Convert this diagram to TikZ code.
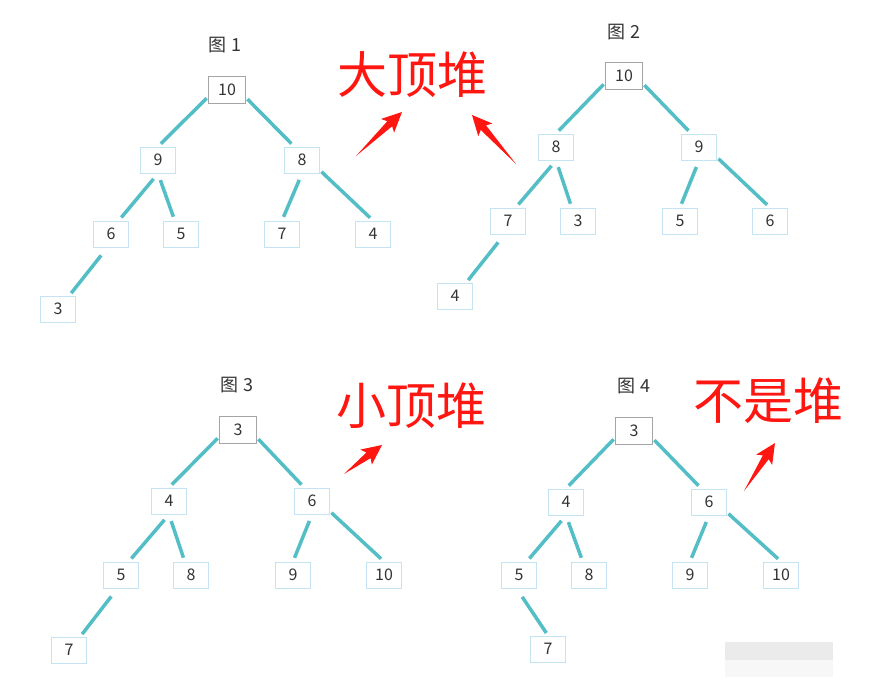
\documentclass[tikz,border=0pt]{standalone}
\usepackage{fontspec}
\newfontfamily\cjk{Noto Sans CJK SC}
\usepackage{tikz}
\usetikzlibrary{calc,positioning}
\definecolor{edgeteal}{RGB}{84,190,198}
\definecolor{keyblue}{RGB}{196,228,243}
\definecolor{rootgray}{RGB}{165,165,165}
\definecolor{inkgray}{RGB}{51,51,51}
\definecolor{heapred}{RGB}{255,22,16}
\tikzstyle{key} = [rectangle, draw=keyblue, fill=white, line width=1pt, minimum width=35pt, minimum height=26pt, inner sep=0pt, text=inkgray, font=\cjk\fontsize{16}{16}\selectfont]
\tikzstyle{rootkey} = [key, draw=rootgray, minimum width=37pt, minimum height=27pt]
\tikzstyle{title} = [text=inkgray, font=\cjk\fontsize{18}{18}\selectfont]
\tikzstyle{verdict} = [text=heapred, font=\cjk\fontsize{50}{50}\selectfont]
\tikzstyle{edge} = [draw=edgeteal, line width=3.5pt, shorten <=2pt, shorten >=4pt]
\tikzstyle{subedge} = [edge, shorten <=7pt]
\tikzstyle{leafedge} = [edge, shorten <=10pt, shorten >=3pt]
% tapered red arrow from a tail point to a tip point
\newcommand{\redarrow}[2]{%
    \fill[heapred] (#1)
        -- ($ ($(#2)!17pt!(#1)$)!3.5pt!90:(#1) $)
        -- ($ ($(#2)!20pt!(#1)$)!9.5pt!90:(#1) $)
        -- (#2)
        -- ($ ($(#2)!20pt!(#1)$)!9.5pt!-90:(#1) $)
        -- ($ ($(#2)!17pt!(#1)$)!3.5pt!-90:(#1) $)
        -- cycle;}

\begin{document}
\begin{tikzpicture}[x=1pt, y=-1pt]
            \useasboundingbox (0,0) rectangle (872,685);

            % figure 1
            \node[title]   (title1) at (225,45) {图 1};
            \node[rootkey] (t1r) at (227,90)  {10};
            \node[key]     (t1a) at (158,160) {9};
            \node[key]     (t1b) at (302,160) {8};
            \node[key]     (t1c) at (111,234) {6};
            \node[key]     (t1d) at (181,234) {5};
            \node[key]     (t1e) at (282,234) {7};
            \node[key]     (t1f) at (373,234) {4};
            \node[key]     (t1g) at (58,309)  {3};
            \path[edge]     (t1r.200) --   (t1a.north);
            \path[edge]     (t1r.-22) --   (t1b.120);
            \path[subedge]  (t1a.south) -- (t1c.60);
            \path[subedge]  (t1a.south) -- (t1d.115);
            \path[subedge]  (t1b.south) -- (t1e.north);
            \path[edge]     (t1b.-30) --   (t1f.north);
            \path[leafedge] (t1c.255) --   (t1g.50);

            % figure 2
            \node[title]   (title2) at (624,32) {图 2};
            \node[rootkey] (t2r) at (624,76)  {10};
            \node[key]     (t2a) at (556,147) {8};
            \node[key]     (t2b) at (699,147) {9};
            \node[key]     (t2c) at (508,221) {7};
            \node[key]     (t2d) at (578,221) {3};
            \node[key]     (t2e) at (680,221) {5};
            \node[key]     (t2f) at (770,221) {6};
            \node[key]     (t2g) at (455,296) {4};
            \path[edge]     (t2r.200) --   (t2a.north);
            \path[edge]     (t2r.-22) --   (t2b.120);
            \path[subedge]  (t2a.south) -- (t2c.60);
            \path[subedge]  (t2a.south) -- (t2d.115);
            \path[subedge]  (t2b.south) -- (t2e.north);
            \path[edge]     (t2b.-30) --   (t2f.north);
            \path[leafedge] (t2c.255) --   (t2g.50);

            % figure 3
            \node[title]   (title3) at (237,385) {图 3};
            \node[rootkey] (t3r) at (238,430) {3};
            \node[key]     (t3a) at (169,501) {4};
            \node[key]     (t3b) at (312,501) {6};
            \node[key]     (t3c) at (121,575) {5};
            \node[key]     (t3d) at (191,575) {8};
            \node[key]     (t3e) at (293,575) {9};
            \node[key]     (t3f) at (384,575) {10};
            \node[key]     (t3g) at (69,650)  {7};
            \path[edge]     (t3r.200) --   (t3a.north);
            \path[edge]     (t3r.-22) --   (t3b.120);
            \path[subedge]  (t3a.south) -- (t3c.60);
            \path[subedge]  (t3a.south) -- (t3d.115);
            \path[subedge]  (t3b.south) -- (t3e.north);
            \path[edge]     (t3b.-30) --   (t3f.north);
            \path[leafedge] (t3c.255) --   (t3g.50);

            % figure 4
            \node[title]   (title4) at (634,386) {图 4};
            \node[rootkey] (t4r) at (634,431) {3};
            \node[key]     (t4a) at (566,502) {4};
            \node[key]     (t4b) at (709,502) {6};
            \node[key]     (t4c) at (519,575) {5};
            \node[key]     (t4d) at (589,575) {8};
            \node[key]     (t4e) at (690,575) {9};
            \node[key]     (t4f) at (781,575) {10};
            \node[key]     (t4g) at (548,649) {7};
            \path[edge]     (t4r.200) --   (t4a.north);
            \path[edge]     (t4r.-22) --   (t4b.120);
            \path[subedge]  (t4a.south) -- (t4c.60);
            \path[subedge]  (t4a.south) -- (t4d.115);
            \path[subedge]  (t4b.south) -- (t4e.north);
            \path[edge]     (t4b.-30) --   (t4f.north);
            \path[leafedge] (t4c.-100) --  (t4g.north);

            % verdicts and their arrows
            \node[verdict] (big)   at (412,75)  {大顶堆};
            \node[verdict] (small) at (411,406) {小顶堆};
            \node[verdict] (none)  at (768,401) {不是堆};
            \coordinate (a1tail) at (356,156); \coordinate (a1tip) at (402,112);
            \coordinate (a2tail) at (516,164); \coordinate (a2tip) at (472,115);
            \coordinate (a3tail) at (344,474); \coordinate (a3tip) at (382,445);
            \coordinate (a4tail) at (744,491); \coordinate (a4tip) at (775,443);
            \redarrow{a1tail}{a1tip}
            \redarrow{a2tail}{a2tip}
            \redarrow{a3tail}{a3tip}
            \redarrow{a4tail}{a4tip}

            % blurred patch in the corner
            \fill[black!8] (725,642) rectangle (833,660);
            \fill[black!3] (725,660) rectangle (833,677);
        \end{tikzpicture}
\end{document}
